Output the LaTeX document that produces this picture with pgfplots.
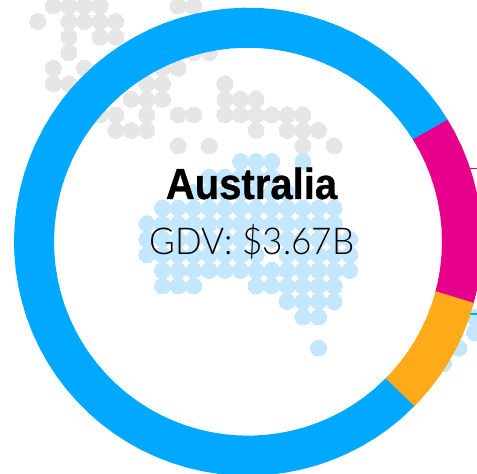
\documentclass[border=0pt]{standalone}
\usepackage{fontspec}
\setmainfont{Liberation Sans}[BoldFeatures={FakeBold=0.7,FakeStretch=0.92}]
\newfontfamily\lightfont{Lato Light}[FakeStretch=0.95]
\usepackage{pgfplots}
\pgfplotsset{compat=1.18}
\definecolor{ringblue}{RGB}{0,168,255}
\definecolor{ringpink}{RGB}{230,0,140}
\definecolor{ringamber}{RGB}{255,170,25}
\definecolor{dotgrey}{RGB}{230,230,230}
\definecolor{dotblue}{RGB}{194,231,255}
% dot map: grid column and row of each dot
\pgfplotsset{dots/.style={only marks,mark=*,mark size=8pt,
  mark options={draw=#1,fill=#1,line width=0pt}}}
\begin{document}
\begin{tikzpicture}
\useasboundingbox (0,0) rectangle (477pt,474pt);
\begin{axis}[anchor=south west,at={(0,0)},width=477pt,height=474pt,scale only axis,hide axis,clip marker paths=true,
  xmin=-248,xmax=229,ymin=-232.3,ymax=241.7]
% grey world dots
\addplot[dots=dotgrey] table[row sep=\\,x expr=\thisrow{c}*15.6-210.3,y expr=235.7-\thisrow{r}*15.55]{
c r\\
1 0\\ 2 0\\ 3 0\\ 4 0\\ 9 0\\ 10 0\\
0 1\\ 2 1\\ 3 1\\ 4 1\\ 5 1\\
2 2\\ 4 2\\ 5 2\\
2 3\\ 10 3\\ 11 3\\
1 4\\ 3 4\\ 8 4\\ 9 4\\
1 5\\ 2 5\\ 7 5\\ 8 5\\ 12 5\\
6 6\\ 7 6\\ 8 6\\ 12 6\\ 13 6\\ 14 6\\
4 7\\ 5 7\\ 7 7\\ 9 7\\ 10 7\\ 12 7\\ 13 7\\ 14 7\\ 15 7\\ 16 7\\ 17 7\\
5 8\\ 6 8\\ 7 8\\ 14 8\\ 16 8\\ 17 8\\ 18 8\\
9 9\\ 11 9\\ 17 9\\ 19 9\\
};
% light blue dots of the highlighted country
\addplot[dots=dotblue] table[row sep=\\,x expr=\thisrow{c}*15.6-210.3,y expr=235.7-\thisrow{r}*15.55]{
c r\\
13 10\\ 14 10\\ 15 10\\ 17 10\\
11 11\\ 12 11\\ 13 11\\ 14 11\\ 15 11\\
10 12\\ 11 12\\ 12 12\\ 13 12\\ 14 12\\ 15 12\\ 16 12\\
8 13\\ 9 13\\ 10 13\\ 11 13\\ 12 13\\ 13 13\\ 14 13\\ 15 13\\ 16 13\\ 17 13\\ 18 13\\ 19 13\\
7 14\\ 8 14\\ 9 14\\ 10 14\\ 11 14\\ 12 14\\ 13 14\\ 14 14\\ 15 14\\ 16 14\\ 17 14\\ 18 14\\ 19 14\\
7 15\\ 8 15\\ 9 15\\ 10 15\\ 11 15\\ 12 15\\ 13 15\\ 14 15\\ 15 15\\ 16 15\\ 17 15\\ 18 15\\ 19 15\\ 20 15\\
7 16\\ 8 16\\ 9 16\\ 10 16\\ 11 16\\ 12 16\\ 13 16\\ 14 16\\ 16 16\\ 17 16\\ 18 16\\ 19 16\\ 20 16\\
8 17\\ 9 17\\ 10 17\\ 11 17\\ 12 17\\ 13 17\\ 14 17\\ 15 17\\ 16 17\\ 17 17\\ 18 17\\ 19 17\\ 20 17\\
8 18\\ 9 18\\ 10 18\\ 14 18\\ 15 18\\ 16 18\\ 17 18\\ 18 18\\ 19 18\\
16 19\\ 17 19\\ 18 19\\ 19 19\\
17 20\\ 18 20\\ 28 20\\
28 21\\
18 22\\ 27 22\\
26 23\\
};
% leader lines running off to the right
\addplot[no markers,draw=ringpink,line width=1.3pt] coordinates {(200,73.4)(229,73.4)};
\addplot[no markers,draw=ringblue,line width=1.3pt] coordinates {(200,-72.3)(229,-72.3)};
% ring segments, angle and radius; each later segment overlaps the one before
\addplot[data cs=polar,no markers,draw=ringblue,line width=40pt] coordinates {
(31,214)(35,214)(39,214)(43,214)(47,214)(51,214)(55,214)(59,214)(63,214)(67,214)(71,214)(75,214)
(79,214)(83,214)(87,214)(91,214)(95,214)(99,214)(103,214)(107,214)(111,214)(115,214)(119,214)(123,214)
(127,214)(131,214)(135,214)(139,214)(143,214)(147,214)(151,214)(155,214)(159,214)(163,214)(167,214)(171,214)
(175,214)(179,214)(183,214)(187,214)(191,214)(195,214)(199,214)(203,214)(207,214)(211,214)(215,214)(219,214)
(223,214)(227,214)(231,214)(235,214)(239,214)(243,214)(247,214)(251,214)(255,214)(259,214)(263,214)(267,214)
(271,214)(275,214)(279,214)(283,214)(287,214)(291,214)(295,214)(299,214)(303,214)(307,214)(311,214)(316,214)};
\addplot[data cs=polar,no markers,draw=ringpink,line width=40pt] coordinates {
(31.6,214)(28,214)(24,214)(20,214)(16,214)(12,214)(8,214)(4,214)(0,214)(-4,214)(-8,214)(-12,214)(-15.5,214)};
\addplot[data cs=polar,no markers,draw=ringamber,line width=40pt] coordinates {
(-15,214)(-19,214)(-23,214)(-27,214)(-31,214)(-35,214)(-39,214)(-43,214)(-44.7,214)};
\node[anchor=base,inner sep=0pt,font=\fontsize{43.5}{44}\selectfont\bfseries] at (axis cs:3.5,42.7) {Australia};
\node[anchor=base,inner sep=0pt,font=\fontsize{37}{37}\selectfont\lightfont] at (axis cs:4,-13.3) {GDV: \$3.67B};
\end{axis}
\end{tikzpicture}
\end{document}
